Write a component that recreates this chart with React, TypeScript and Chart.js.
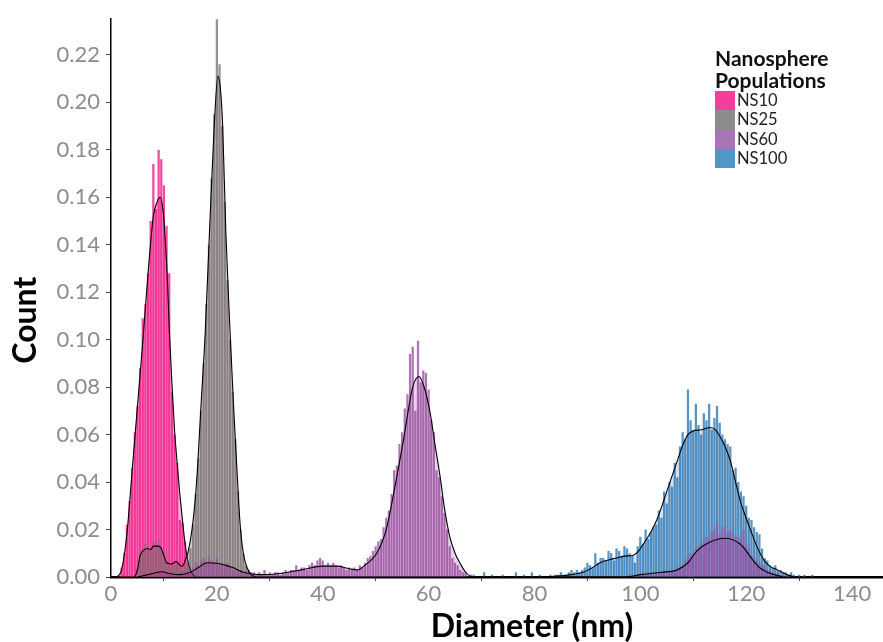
import React, { useEffect, useRef } from "react";
import { Chart, registerables } from "chart.js";

Chart.register(...registerables);

// ---------- data ----------
const seriesNames = ["NS10", "NS25", "NS60", "NS100"];
const legendColors = ["#f23f9e", "#8c8c8c", "#a974b6", "#4f97c8"];
const xTitle = "Diameter (nm)";
const yTitle = "Count";
const legendTitle = ["Nanosphere", "Populations"];
const xRange = [0, 145.85];
const yRange = [0, 0.235];
const xStep = 20;
const yStep = 0.02;

// histogram bins: [bin centre (nm), density]
const ns10Hist: [number, number][] = [
  [2.0, 0.004], [2.5, 0.01], [3.0, 0.022], [3.5, 0.032], [4.0, 0.046], [4.5, 0.061],
  [5.0, 0.072], [5.5, 0.088], [6.0, 0.109], [6.5, 0.115], [7.0, 0.128], [7.5, 0.15],
  [8.0, 0.174], [8.5, 0.155], [9.0, 0.18], [9.5, 0.176], [10.0, 0.165], [10.5, 0.148],
  [11.0, 0.128], [11.5, 0.078], [12.0, 0.06], [12.5, 0.048], [13.0, 0.024], [13.5, 0.023],
  [14.0, 0.015], [14.5, 0.006], [15.0, 0.002],
];

const ns25Hist: [number, number][] = [
  [5.0, 0.004], [5.5, 0.012], [6.0, 0.01], [6.5, 0.014], [7.0, 0.012], [7.5, 0.011],
  [8.0, 0.015], [8.5, 0.013], [9.0, 0.016], [9.5, 0.012], [10.0, 0.011], [10.5, 0.007],
  [11.0, 0.005], [11.5, 0.004], [12.0, 0.005], [12.5, 0.006], [13.0, 0.004], [13.5, 0.003],
  [14.0, 0.004], [14.5, 0.007], [15.0, 0.012], [15.5, 0.022], [16.0, 0.035], [16.5, 0.05],
  [17.0, 0.07], [17.5, 0.09], [18.0, 0.115], [18.5, 0.14], [19.0, 0.168], [19.5, 0.195],
  [20.0, 0.236], [20.5, 0.216], [21.0, 0.19], [21.5, 0.158], [22.0, 0.125], [22.5, 0.1],
  [23.0, 0.078], [23.5, 0.058], [24.0, 0.036], [24.5, 0.02], [25.0, 0.01], [25.5, 0.005],
  [26.0, 0.003], [26.5, 0.002],
];

const ns60Hist: [number, number][] = [
  [6.5, 0.001], [7.5, 0.002], [8.5, 0.002], [9.0, 0.003], [9.5, 0.002], [10.0, 0.003],
  [10.5, 0.002], [11.5, 0.001], [12.5, 0.001], [13.5, 0.001], [14.5, 0.002], [15.0, 0.003],
  [15.5, 0.004], [16.0, 0.006], [16.5, 0.005], [17.0, 0.007], [17.5, 0.008], [18.0, 0.006],
  [18.5, 0.009], [19.0, 0.007], [19.5, 0.006], [20.0, 0.008], [20.5, 0.005], [21.0, 0.006],
  [21.5, 0.004], [22.0, 0.006], [22.5, 0.004], [23.0, 0.003], [23.5, 0.003], [24.0, 0.002],
  [24.5, 0.003], [25.0, 0.002], [25.5, 0.003], [26.0, 0.002], [26.5, 0.001], [27.0, 0.002],
  [27.5, 0.001], [28.0, 0.002], [28.5, 0.001], [29.0, 0.003], [29.5, 0.001], [30.0, 0.002],
  [30.5, 0.001], [31.0, 0.002], [31.5, 0.002], [32.0, 0.001], [32.5, 0.002], [33.0, 0.003],
  [33.5, 0.002], [34.0, 0.003], [34.5, 0.003], [35.0, 0.005], [35.5, 0.003], [36.0, 0.004],
  [36.5, 0.004], [37.0, 0.003], [37.5, 0.005], [38.0, 0.006], [38.5, 0.005], [39.0, 0.007],
  [39.5, 0.008], [40.0, 0.007], [40.5, 0.005], [41.0, 0.006], [41.5, 0.005], [42.0, 0.006],
  [42.5, 0.005], [43.0, 0.004], [43.5, 0.005], [44.0, 0.004], [44.5, 0.003], [45.0, 0.004],
  [45.5, 0.003], [46.0, 0.004], [46.5, 0.003], [47.0, 0.005], [47.5, 0.004], [48.0, 0.006],
  [48.5, 0.008], [49.0, 0.009], [49.5, 0.011], [50.0, 0.013], [50.5, 0.015], [51.0, 0.016],
  [51.5, 0.021], [52.0, 0.025], [52.5, 0.028], [53.0, 0.035], [53.5, 0.045], [54.0, 0.047],
  [54.5, 0.056], [55.0, 0.061], [55.5, 0.071], [56.0, 0.077], [56.5, 0.094], [57.0, 0.097],
  [57.5, 0.07], [58.0, 0.0995], [58.5, 0.082], [59.0, 0.087], [59.5, 0.086], [60.0, 0.079],
  [60.5, 0.066], [61.0, 0.061], [61.5, 0.045], [62.0, 0.042], [62.5, 0.034], [63.0, 0.027],
  [63.5, 0.02], [64.0, 0.013], [64.5, 0.008], [65.0, 0.006], [65.5, 0.005], [66.0, 0.003],
  [66.5, 0.002], [67.0, 0.002], [68.0, 0.001],
  [98.0, 0.001], [99.5, 0.001], [100.5, 0.002], [101.5, 0.002], [102.0, 0.001], [103.0, 0.002],
  [104.0, 0.002], [104.5, 0.003], [105.5, 0.002], [106.0, 0.003], [106.5, 0.003], [107.0, 0.004],
  [107.5, 0.004], [108.0, 0.005], [108.5, 0.007], [109.0, 0.009], [109.5, 0.01], [110.0, 0.009],
  [110.5, 0.012], [111.0, 0.013], [111.5, 0.014], [112.0, 0.015], [112.5, 0.017], [113.0, 0.016],
  [113.5, 0.019], [114.0, 0.02], [114.5, 0.023], [115.0, 0.018], [115.5, 0.021], [116.0, 0.021],
  [116.5, 0.019], [117.0, 0.02], [117.5, 0.018], [118.0, 0.017], [118.5, 0.017], [119.0, 0.016],
  [119.5, 0.02], [120.0, 0.014], [120.5, 0.012], [121.0, 0.009], [121.5, 0.008], [122.0, 0.007],
  [122.5, 0.006], [123.0, 0.005], [123.5, 0.005], [124.0, 0.003], [124.5, 0.003], [125.0, 0.002],
  [126.0, 0.002], [127.0, 0.001], [128.0, 0.001],
];

const ns100Hist: [number, number][] = [
  [68.5, 0.001], [70.5, 0.002], [72.0, 0.001], [74.0, 0.001], [76.5, 0.002], [78.0, 0.001],
  [79.5, 0.002], [81.0, 0.001],
  [83.0, 0.001], [84.0, 0.001], [84.5, 0.001], [85.0, 0.002], [85.5, 0.001], [86.0, 0.001],
  [86.5, 0.002], [87.0, 0.003], [87.5, 0.002], [88.0, 0.003], [88.5, 0.002], [89.0, 0.003],
  [89.5, 0.004], [90.0, 0.006], [90.5, 0.005], [91.0, 0.004], [91.5, 0.01], [92.0, 0.006],
  [92.5, 0.008], [93.0, 0.008], [93.5, 0.007], [94.0, 0.011], [94.5, 0.01], [95.0, 0.007],
  [95.5, 0.012], [96.0, 0.011], [96.5, 0.009], [97.0, 0.013], [97.5, 0.012], [98.0, 0.01],
  [98.5, 0.009], [99.0, 0.006], [99.5, 0.013], [100.0, 0.017], [100.5, 0.014], [101.0, 0.02],
  [101.5, 0.016], [102.0, 0.019], [102.5, 0.021], [103.0, 0.022], [103.5, 0.028], [104.0, 0.025],
  [104.5, 0.036], [105.0, 0.031], [105.5, 0.04], [106.0, 0.038], [106.5, 0.048], [107.0, 0.042],
  [107.5, 0.055], [108.0, 0.061], [108.5, 0.058], [109.0, 0.079], [109.5, 0.066], [110.0, 0.062],
  [110.5, 0.073], [111.0, 0.064], [111.5, 0.06], [112.0, 0.069], [112.5, 0.066], [113.0, 0.073],
  [113.5, 0.062], [114.0, 0.067], [114.5, 0.072], [115.0, 0.065], [115.5, 0.06], [116.0, 0.058],
  [116.5, 0.056], [117.0, 0.055], [117.5, 0.045], [118.0, 0.046], [118.5, 0.04], [119.0, 0.036],
  [119.5, 0.034], [120.0, 0.03], [120.5, 0.025], [121.0, 0.024], [121.5, 0.021], [122.0, 0.019],
  [122.5, 0.018], [123.0, 0.012], [123.5, 0.008], [124.0, 0.007], [124.5, 0.005], [125.0, 0.004],
  [125.5, 0.005], [126.0, 0.003], [126.5, 0.003], [127.0, 0.002], [127.5, 0.002], [128.0, 0.001],
  [128.5, 0.002], [129.0, 0.001], [130.0, 0.001], [131.0, 0.001], [132.5, 0.001],
];

// kernel density curves: [x (nm), density]
const ns10Density: [number, number][] = [
  [1, 0], [1.5, 0.0008], [2, 0.003], [3, 0.018], [4, 0.045], [5, 0.072], [6, 0.099],
  [7, 0.128], [8, 0.152], [8.7, 0.158], [9.3, 0.16], [9.9, 0.153], [10.3, 0.14], [10.7, 0.123],
  [11, 0.105], [11.5, 0.082], [12, 0.062], [12.5, 0.048], [13, 0.035], [13.5, 0.024], [14, 0.014],
  [14.5, 0.007], [15, 0.003], [15.5, 0.001], [16, 0],
];

const ns25Density: [number, number][] = [
  [4.5, 0], [5, 0.003], [5.5, 0.009], [6, 0.011], [7, 0.012], [7.5, 0.0115], [8, 0.013],
  [9, 0.013], [9.5, 0.012], [10, 0.009], [10.5, 0.006], [11.5, 0.0055], [12.3, 0.0065],
  [13, 0.005], [13.5, 0.0045], [14, 0.007], [14.5, 0.01], [15.3, 0.02], [16, 0.035],
  [16.4, 0.048], [17, 0.072], [17.8, 0.103], [18.6, 0.145], [19.5, 0.19], [20.2, 0.211],
  [20.7, 0.205], [21.1, 0.19], [21.7, 0.145], [22.5, 0.103], [23.2, 0.07], [23.8, 0.045],
  [24.4, 0.022], [25, 0.01], [25.7, 0.004], [26.5, 0.001], [27.5, 0],
];

const ns60Density: [number, number][] = [
  [5, 0], [7, 0.001], [9.6, 0.0022], [11, 0.0015], [13, 0.001], [15, 0.002], [16.5, 0.004],
  [18.1, 0.006], [20, 0.0058], [21.5, 0.005], [23, 0.004], [25, 0.002], [28, 0.001],
  [32, 0.0015], [36, 0.003], [40, 0.0046], [42.5, 0.0046], [45, 0.0035], [46.5, 0.003],
  [48, 0.005], [50.2, 0.01], [52, 0.02], [53.3, 0.034], [55.2, 0.057], [57, 0.08],
  [58.2, 0.0845], [59.3, 0.079], [60.3, 0.069], [61.2, 0.056], [62.2, 0.042], [63, 0.029],
  [64, 0.017], [65, 0.01], [65.9, 0.006], [67, 0.002], [68.5, 0], [97, 0], [100, 0.001],
  [104, 0.002], [107, 0.003], [109, 0.006], [110.7, 0.011], [113, 0.0145], [116, 0.0163],
  [118.8, 0.014], [120, 0.011], [121.3, 0.007], [122.5, 0.004], [124, 0.002], [127, 0],
];

const ns100Density: [number, number][] = [
  [82, 0], [85, 0.0005], [87, 0.001], [89.2, 0.002], [91, 0.004], [92.4, 0.006], [94, 0.0072],
  [95.5, 0.008], [97, 0.0088], [98.7, 0.0092], [99.7, 0.011], [100.6, 0.014], [102, 0.019],
  [103.1, 0.024], [104.4, 0.032], [105.6, 0.04], [107, 0.049], [108.1, 0.056], [109, 0.06],
  [110, 0.0615], [111.5, 0.062], [113.2, 0.063], [114.2, 0.062], [115.1, 0.059], [116, 0.055],
  [117, 0.049], [118, 0.04], [118.9, 0.032], [119.8, 0.026], [120.8, 0.02], [122, 0.013],
  [123.4, 0.007], [124.5, 0.0045], [125.9, 0.003], [127.5, 0.0012], [129.1, 0],
];

// ---------- styles ----------
const barColors = [
  "rgba(243,45,148,0.88)",
  "rgba(138,134,134,0.9)",
  "rgba(166,94,174,0.88)",
  "rgba(68,136,192,0.9)",
];
const fillColors = [
  "rgba(235,20,130,0.35)",
  "rgba(115,95,95,0.32)",
  "rgba(150,60,150,0.22)",
  "rgba(40,100,160,0.18)",
];

const toPts = (arr: [number, number][]) => arr.map(([x, y]) => ({ x, y }));

const FONT = "Lato, 'Open Sans', sans-serif";

const axisTitlePlugin = {
  id: "axisTitles",
  afterDraw(chart: any) {
    const { ctx, chartArea } = chart;
    ctx.save();
    ctx.fillStyle = "#000";
    ctx.font = `bold 32px ${FONT}`;
    ctx.textAlign = "center";
    ctx.textBaseline = "middle";
    ctx.fillText(xTitle, chartArea.left + 421, chartArea.bottom + 50);
    ctx.translate(26, chartArea.top + 301);
    ctx.rotate(-Math.PI / 2);
    ctx.fillText(yTitle, 0, 0);
    ctx.restore();
  },
};

export default function App() {
  const canvasRef = useRef<HTMLCanvasElement | null>(null);

  useEffect(() => {
    if (!canvasRef.current) return;
    const hists = [ns10Hist, ns25Hist, ns60Hist, ns100Hist];
    const dens = [ns10Density, ns25Density, ns60Density, ns100Density];
    // drawing order (bottom to top): NS10, NS100, NS25, NS60
    const barOrder = [8, 6, 5, 7];
    const lineOrder = [4, 2, 1, 3];

    const datasets: any[] = [];
    seriesNames.forEach((name, i) => {
      datasets.push({
        type: "bar",
        label: name,
        data: toPts(hists[i]),
        backgroundColor: barColors[i],
        borderWidth: 0,
        grouped: false,
        barPercentage: 0.85,
        categoryPercentage: 1,
        order: barOrder[i],
      });
    });
    seriesNames.forEach((name, i) => {
      datasets.push({
        type: "line",
        label: name + " density",
        data: toPts(dens[i]),
        borderColor: "#000",
        borderWidth: 1.1,
        backgroundColor: fillColors[i],
        fill: "origin",
        pointRadius: 0,
        cubicInterpolationMode: "monotone",
        order: lineOrder[i],
      });
    });

    const chart = new Chart(canvasRef.current, {
      type: "bar",
      data: { datasets },
      options: {
        animation: false,
        responsive: false,
        events: [],
        layout: { padding: { left: 0, top: 15, right: 0, bottom: 0 } },
        plugins: { legend: { display: false }, tooltip: { enabled: false } },
        scales: {
          x: {
            type: "linear",
            min: xRange[0],
            max: xRange[1],
            offset: false,
            afterFit: (s: any) => {
              s.height = 65;
            },
            ticks: {
              stepSize: xStep,
              includeBounds: false,
              color: "#8c8c8c",
              font: { family: FONT, size: 22 },
              padding: 0,
              maxRotation: 0,
            },
            grid: { display: true, drawOnChartArea: false, drawTicks: true, tickLength: 4, color: "#444" },
            border: { display: true, color: "#000", width: 2.5 },
          },
          y: {
            type: "linear",
            min: yRange[0],
            max: yRange[1],
            afterFit: (s: any) => {
              s.width = 111;
            },
            ticks: {
              stepSize: yStep,
              includeBounds: false,
              color: "#8c8c8c",
              font: { family: FONT, size: 22 },
              padding: 6,
              callback: (v: any) => Number(v).toFixed(2),
            },
            grid: { display: true, drawOnChartArea: false, drawTicks: true, tickLength: 5, color: "#444" },
            border: { display: true, color: "#000", width: 1.5 },
          },
        },
      },
      plugins: [axisTitlePlugin],
    } as any);

    return () => chart.destroy();
  }, []);

  return (
    <div style={{ position: "absolute", left: 0, top: 0, width: 883, height: 642, background: "#fff" }}>
      <canvas ref={canvasRef} width={883} height={642} style={{ display: "block" }} />
      <div style={{ position: "absolute", left: 715, top: 47, fontFamily: FONT, color: "#111" }}>
        <div style={{ fontWeight: 700, fontSize: 21, lineHeight: "22px" }}>
          {legendTitle[0]}
          <br />
          {legendTitle[1]}
        </div>
        {seriesNames.map((n, i) => (
          <div key={n} style={{ display: "flex", alignItems: "center", height: 19.3 }}>
            <span style={{ display: "inline-block", width: 20, height: 19.3, background: legendColors[i] }} />
            <span style={{ marginLeft: 2, fontSize: 16.5, lineHeight: "19px", color: "#222" }}>{n}</span>
          </div>
        ))}
      </div>
    </div>
  );
}
